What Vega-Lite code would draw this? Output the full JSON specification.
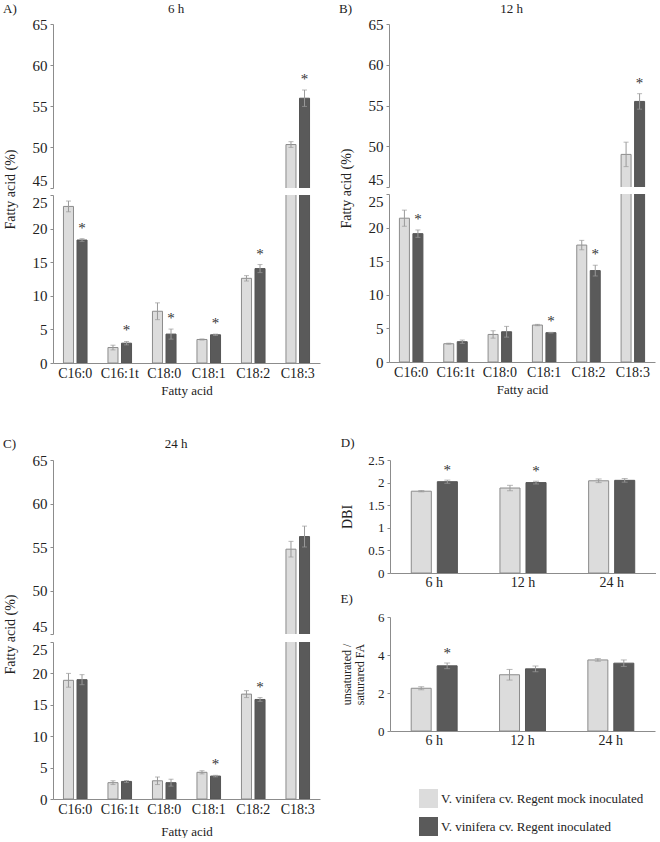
{
  "$schema": "https://vega.github.io/schema/vega-lite/v6.json",
  "padding": {"left": 3, "top": 3, "right": 0, "bottom": 0},
  "background": "white",
  "datasets": {
    "fa": [
      {"time": "6 h", "acid": "C16:0", "grp": "mock", "value": 23.3, "lo": 22.5, "hi": 24.1, "sig": 0},
      {"time": "6 h", "acid": "C16:0", "grp": "inoc", "value": 18.3, "lo": 18.1, "hi": 18.5, "sig": 1},
      {"time": "6 h", "acid": "C16:1t", "grp": "mock", "value": 2.3, "lo": 1.95, "hi": 2.65, "sig": 0},
      {"time": "6 h", "acid": "C16:1t", "grp": "inoc", "value": 2.95, "lo": 2.7, "hi": 3.2, "sig": 1},
      {"time": "6 h", "acid": "C18:0", "grp": "mock", "value": 7.7, "lo": 6.45, "hi": 8.95, "sig": 0},
      {"time": "6 h", "acid": "C18:0", "grp": "inoc", "value": 4.3, "lo": 3.55, "hi": 5.05, "sig": 1},
      {"time": "6 h", "acid": "C18:1", "grp": "mock", "value": 3.5, "lo": 3.42, "hi": 3.58, "sig": 0},
      {"time": "6 h", "acid": "C18:1", "grp": "inoc", "value": 4.2, "lo": 4.1, "hi": 4.3, "sig": 1},
      {"time": "6 h", "acid": "C18:2", "grp": "mock", "value": 12.6, "lo": 12.2, "hi": 13.0, "sig": 0},
      {"time": "6 h", "acid": "C18:2", "grp": "inoc", "value": 14.05, "lo": 13.45, "hi": 14.65, "sig": 1},
      {"time": "6 h", "acid": "C18:3", "grp": "mock", "value": 50.3, "lo": 49.95, "hi": 50.65, "sig": 0},
      {"time": "6 h", "acid": "C18:3", "grp": "inoc", "value": 55.95, "lo": 54.95, "hi": 56.95, "sig": 1},
      {"time": "12 h", "acid": "C16:0", "grp": "mock", "value": 21.4, "lo": 20.2, "hi": 22.6, "sig": 0},
      {"time": "12 h", "acid": "C16:0", "grp": "inoc", "value": 19.1, "lo": 18.55, "hi": 19.65, "sig": 1},
      {"time": "12 h", "acid": "C16:1t", "grp": "mock", "value": 2.72, "lo": 2.64, "hi": 2.8, "sig": 0},
      {"time": "12 h", "acid": "C16:1t", "grp": "inoc", "value": 3.02, "lo": 2.77, "hi": 3.27, "sig": 0},
      {"time": "12 h", "acid": "C18:0", "grp": "mock", "value": 4.1, "lo": 3.55, "hi": 4.65, "sig": 0},
      {"time": "12 h", "acid": "C18:0", "grp": "inoc", "value": 4.5, "lo": 3.7, "hi": 5.3, "sig": 0},
      {"time": "12 h", "acid": "C18:1", "grp": "mock", "value": 5.5, "lo": 5.4, "hi": 5.6, "sig": 0},
      {"time": "12 h", "acid": "C18:1", "grp": "inoc", "value": 4.36, "lo": 4.31, "hi": 4.41, "sig": 1},
      {"time": "12 h", "acid": "C18:2", "grp": "mock", "value": 17.4, "lo": 16.7, "hi": 18.1, "sig": 0},
      {"time": "12 h", "acid": "C18:2", "grp": "inoc", "value": 13.6, "lo": 12.8, "hi": 14.4, "sig": 1},
      {"time": "12 h", "acid": "C18:3", "grp": "mock", "value": 49.0, "lo": 47.5, "hi": 50.5, "sig": 0},
      {"time": "12 h", "acid": "C18:3", "grp": "inoc", "value": 55.5, "lo": 54.55, "hi": 56.45, "sig": 1},
      {"time": "24 h", "acid": "C16:0", "grp": "mock", "value": 18.9, "lo": 17.8, "hi": 20.0, "sig": 0},
      {"time": "24 h", "acid": "C16:0", "grp": "inoc", "value": 19.0, "lo": 18.2, "hi": 19.8, "sig": 0},
      {"time": "24 h", "acid": "C16:1t", "grp": "mock", "value": 2.6, "lo": 2.3, "hi": 2.9, "sig": 0},
      {"time": "24 h", "acid": "C16:1t", "grp": "inoc", "value": 2.8, "lo": 2.65, "hi": 2.95, "sig": 0},
      {"time": "24 h", "acid": "C18:0", "grp": "mock", "value": 2.9, "lo": 2.3, "hi": 3.5, "sig": 0},
      {"time": "24 h", "acid": "C18:0", "grp": "inoc", "value": 2.6, "lo": 2.05, "hi": 3.15, "sig": 0},
      {"time": "24 h", "acid": "C18:1", "grp": "mock", "value": 4.25, "lo": 4.0, "hi": 4.5, "sig": 0},
      {"time": "24 h", "acid": "C18:1", "grp": "inoc", "value": 3.65, "lo": 3.53, "hi": 3.77, "sig": 1},
      {"time": "24 h", "acid": "C18:2", "grp": "mock", "value": 16.7, "lo": 16.15, "hi": 17.25, "sig": 0},
      {"time": "24 h", "acid": "C18:2", "grp": "inoc", "value": 15.85, "lo": 15.55, "hi": 16.15, "sig": 1},
      {"time": "24 h", "acid": "C18:3", "grp": "mock", "value": 54.75, "lo": 53.85, "hi": 55.65, "sig": 0},
      {"time": "24 h", "acid": "C18:3", "grp": "inoc", "value": 56.2, "lo": 55.0, "hi": 57.4, "sig": 0}
    ],
    "idx": [
      {"metric": "DBI", "time": "6 h", "grp": "mock", "value": 1.81, "lo": 1.795, "hi": 1.825, "sig": 0},
      {"metric": "DBI", "time": "6 h", "grp": "inoc", "value": 2.02, "lo": 1.985, "hi": 2.055, "sig": 1},
      {"metric": "DBI", "time": "12 h", "grp": "mock", "value": 1.88, "lo": 1.82, "hi": 1.94, "sig": 0},
      {"metric": "DBI", "time": "12 h", "grp": "inoc", "value": 2.0, "lo": 1.97, "hi": 2.03, "sig": 1},
      {"metric": "DBI", "time": "24 h", "grp": "mock", "value": 2.04, "lo": 2.0, "hi": 2.08, "sig": 0},
      {"metric": "DBI", "time": "24 h", "grp": "inoc", "value": 2.05, "lo": 2.01, "hi": 2.09, "sig": 0},
      {"metric": "UFA", "time": "6 h", "grp": "mock", "value": 2.25, "lo": 2.17, "hi": 2.33, "sig": 0},
      {"metric": "UFA", "time": "6 h", "grp": "inoc", "value": 3.43, "lo": 3.28, "hi": 3.58, "sig": 1},
      {"metric": "UFA", "time": "12 h", "grp": "mock", "value": 2.96, "lo": 2.68, "hi": 3.24, "sig": 0},
      {"metric": "UFA", "time": "12 h", "grp": "inoc", "value": 3.27, "lo": 3.12, "hi": 3.42, "sig": 0},
      {"metric": "UFA", "time": "24 h", "grp": "mock", "value": 3.74, "lo": 3.67, "hi": 3.81, "sig": 0},
      {"metric": "UFA", "time": "24 h", "grp": "inoc", "value": 3.57, "lo": 3.4, "hi": 3.74, "sig": 0}
    ]
  },
  "data": {"name": "fa"},
  "spacing": 40,
  "resolve": {"scale": {"xOffset": "independent"}},
  "vconcat": [
    {
      "hconcat": [
        {
          "title": {"text": "A)", "anchor": "start", "frame": "bounds", "offset": -13},
          "bounds": "flush",
          "spacing": 7,
          "resolve": {"scale": {"xOffset": "independent"}},
          "vconcat": [
            {
              "width": 267, "height": 164,
              "title": {"text": "6 h", "anchor": "middle", "frame": "bounds", "offset": 1},
              "transform": [{"filter": "datum.time == '6 h'"}],
              "encoding": {
                "x": {"field": "acid", "type": "nominal", "sort": ["C16:0", "C16:1t", "C18:0", "C18:1", "C18:2", "C18:3"], "scale": {"paddingInner": 0.47, "paddingOuter": 0.235}, "axis": null},
                "xOffset": {"field": "grp", "type": "nominal", "sort": ["mock", "inoc"], "scale": {"paddingInner": 0.26, "paddingOuter": 0}}
              },
              "layer": [
                {"mark": {"type": "bar", "clip": true, "strokeWidth": 1},
                 "encoding": {
                   "y": {"field": "value", "type": "quantitative", "scale": {"domain": [45, 65], "nice": false, "zero": false}, "axis": {"values": [45, 50, 55, 60, 65], "title": null, "labelFontSize": 15, "labelPadding": 3, "labelBaseline": {"condition": {"test": "datum.value == 45", "value": "bottom"}, "value": "middle"}}},
                   "fill": {"field": "grp", "type": "nominal", "scale": {"domain": ["mock", "inoc"], "range": ["#dcdcdc", "#5a5a5a"]}},
                   "stroke": {"field": "grp", "type": "nominal", "scale": {"domain": ["mock", "inoc"], "range": ["#8c8c8c", "#555555"]}, "legend": null}}},
                {"mark": {"type": "rule", "clip": true, "color": "#9a9a9a", "strokeWidth": 1},
                 "encoding": {"y": {"field": "lo", "type": "quantitative", "scale": {"domain": [45, 65], "nice": false, "zero": false}, "axis": {"values": [45, 50, 55, 60, 65], "title": null, "labelFontSize": 15, "labelPadding": 3, "labelBaseline": {"condition": {"test": "datum.value == 45", "value": "bottom"}, "value": "middle"}}}, "y2": {"field": "hi"}}},
                {"mark": {"type": "tick", "clip": true, "color": "#9a9a9a", "size": 5, "thickness": 1, "orient": "horizontal"},
                 "encoding": {"y": {"field": "lo", "type": "quantitative", "scale": {"domain": [45, 65], "nice": false, "zero": false}, "axis": {"values": [45, 50, 55, 60, 65], "title": null, "labelFontSize": 15, "labelPadding": 3, "labelBaseline": {"condition": {"test": "datum.value == 45", "value": "bottom"}, "value": "middle"}}}}},
                {"mark": {"type": "tick", "clip": true, "color": "#9a9a9a", "size": 5, "thickness": 1, "orient": "horizontal"},
                 "encoding": {"y": {"field": "hi", "type": "quantitative", "scale": {"domain": [45, 65], "nice": false, "zero": false}, "axis": {"values": [45, 50, 55, 60, 65], "title": null, "labelFontSize": 15, "labelPadding": 3, "labelBaseline": {"condition": {"test": "datum.value == 45", "value": "bottom"}, "value": "middle"}}}}},
                {"transform": [{"filter": "datum.sig == 1 && datum.hi > 45"}],
                 "mark": {"type": "text", "text": "*", "font": "Liberation Serif", "fontSize": 15, "baseline": "alphabetic", "dy": -6, "color": "#333", "clip": true},
                 "encoding": {"y": {"field": "hi", "type": "quantitative", "scale": {"domain": [45, 65], "nice": false, "zero": false}, "axis": {"values": [45, 50, 55, 60, 65], "title": null, "labelFontSize": 15, "labelPadding": 3, "labelBaseline": {"condition": {"test": "datum.value == 45", "value": "bottom"}, "value": "middle"}}}}}
              ]
            },
            {
              "width": 267, "height": 168,
              "transform": [{"filter": "datum.time == '6 h'"}],
              "encoding": {
                "x": {"field": "acid", "type": "nominal", "sort": ["C16:0", "C16:1t", "C18:0", "C18:1", "C18:2", "C18:3"], "scale": {"paddingInner": 0.47, "paddingOuter": 0.235}, "axis": {"title": "Fatty acid", "labelFontSize": 14, "labelPadding": 3, "titlePadding": 4, "titleFontSize": 13}},
                "xOffset": {"field": "grp", "type": "nominal", "sort": ["mock", "inoc"], "scale": {"paddingInner": 0.26, "paddingOuter": 0}}
              },
              "layer": [
                {"mark": {"type": "bar", "clip": true, "strokeWidth": 1},
                 "encoding": {
                   "y": {"field": "value", "type": "quantitative", "scale": {"domain": [0, 25], "nice": false}, "axis": {"values": [0, 5, 10, 15, 20, 25], "title": "Fatty acid (%)", "titleY": -6, "labelFontSize": 15, "labelPadding": 3, "titlePadding": 15, "labelBaseline": {"condition": {"test": "datum.value == 25", "value": "top"}, "value": "middle"}}},
                   "fill": {"field": "grp", "type": "nominal", "scale": {"domain": ["mock", "inoc"], "range": ["#dcdcdc", "#5a5a5a"]},
                     "legend": {"orient": "none", "legendX": 366, "legendY": 765, "title": null, "symbolType": "square", "symbolSize": 361, "symbolStrokeWidth": 0, "labelFont": "Liberation Serif", "labelFontSize": 13, "labelColor": "#222", "rowPadding": 9, "labelOffset": 3, "labelLimit": 300, "padding": 0,
                       "labelExpr": "datum.label == 'mock' ? 'V. vinifera cv. Regent mock inoculated' : 'V. vinifera cv. Regent inoculated'"}},
                   "stroke": {"field": "grp", "type": "nominal", "scale": {"domain": ["mock", "inoc"], "range": ["#8c8c8c", "#555555"]}, "legend": null}}},
                {"mark": {"type": "rule", "clip": true, "color": "#9a9a9a", "strokeWidth": 1},
                 "encoding": {"y": {"field": "lo", "type": "quantitative", "scale": {"domain": [0, 25], "nice": false}, "axis": {"values": [0, 5, 10, 15, 20, 25], "title": "Fatty acid (%)", "titleY": -6, "labelFontSize": 15, "labelPadding": 3, "titlePadding": 15, "labelBaseline": {"condition": {"test": "datum.value == 25", "value": "top"}, "value": "middle"}}}, "y2": {"field": "hi"}}},
                {"mark": {"type": "tick", "clip": true, "color": "#9a9a9a", "size": 5, "thickness": 1, "orient": "horizontal"},
                 "encoding": {"y": {"field": "lo", "type": "quantitative", "scale": {"domain": [0, 25], "nice": false}, "axis": {"values": [0, 5, 10, 15, 20, 25], "title": "Fatty acid (%)", "titleY": -6, "labelFontSize": 15, "labelPadding": 3, "titlePadding": 15, "labelBaseline": {"condition": {"test": "datum.value == 25", "value": "top"}, "value": "middle"}}}}},
                {"mark": {"type": "tick", "clip": true, "color": "#9a9a9a", "size": 5, "thickness": 1, "orient": "horizontal"},
                 "encoding": {"y": {"field": "hi", "type": "quantitative", "scale": {"domain": [0, 25], "nice": false}, "axis": {"values": [0, 5, 10, 15, 20, 25], "title": "Fatty acid (%)", "titleY": -6, "labelFontSize": 15, "labelPadding": 3, "titlePadding": 15, "labelBaseline": {"condition": {"test": "datum.value == 25", "value": "top"}, "value": "middle"}}}}},
                {"transform": [{"filter": "datum.sig == 1 && datum.hi < 25"}],
                 "mark": {"type": "text", "text": "*", "font": "Liberation Serif", "fontSize": 15, "baseline": "alphabetic", "dy": -6, "color": "#333", "clip": true},
                 "encoding": {"y": {"field": "hi", "type": "quantitative", "scale": {"domain": [0, 25], "nice": false}, "axis": {"values": [0, 5, 10, 15, 20, 25], "title": "Fatty acid (%)", "titleY": -6, "labelFontSize": 15, "labelPadding": 3, "titlePadding": 15, "labelBaseline": {"condition": {"test": "datum.value == 25", "value": "top"}, "value": "middle"}}}}}
              ]
            }
          ]
        },
        {
          "title": {"text": "B)", "anchor": "start", "frame": "bounds", "offset": -13},
          "bounds": "flush",
          "spacing": 7,
          "resolve": {"scale": {"xOffset": "independent"}},
          "vconcat": [
            {
              "width": 266, "height": 163,
              "title": {"text": "12 h", "anchor": "middle", "frame": "bounds", "offset": 1},
              "transform": [{"filter": "datum.time == '12 h'"}],
              "encoding": {
                "x": {"field": "acid", "type": "nominal", "sort": ["C16:0", "C16:1t", "C18:0", "C18:1", "C18:2", "C18:3"], "scale": {"paddingInner": 0.47, "paddingOuter": 0.235}, "axis": null},
                "xOffset": {"field": "grp", "type": "nominal", "sort": ["mock", "inoc"], "scale": {"paddingInner": 0.26, "paddingOuter": 0}}
              },
              "layer": [
                {"mark": {"type": "bar", "clip": true, "strokeWidth": 1},
                 "encoding": {
                   "y": {"field": "value", "type": "quantitative", "scale": {"domain": [45, 65], "nice": false, "zero": false}, "axis": {"values": [45, 50, 55, 60, 65], "title": null, "labelFontSize": 15, "labelPadding": 3, "labelBaseline": {"condition": {"test": "datum.value == 45", "value": "bottom"}, "value": "middle"}}},
                   "fill": {"field": "grp", "type": "nominal", "scale": {"domain": ["mock", "inoc"], "range": ["#dcdcdc", "#5a5a5a"]}},
                   "stroke": {"field": "grp", "type": "nominal", "scale": {"domain": ["mock", "inoc"], "range": ["#8c8c8c", "#555555"]}, "legend": null}}},
                {"mark": {"type": "rule", "clip": true, "color": "#9a9a9a", "strokeWidth": 1},
                 "encoding": {"y": {"field": "lo", "type": "quantitative", "scale": {"domain": [45, 65], "nice": false, "zero": false}, "axis": {"values": [45, 50, 55, 60, 65], "title": null, "labelFontSize": 15, "labelPadding": 3, "labelBaseline": {"condition": {"test": "datum.value == 45", "value": "bottom"}, "value": "middle"}}}, "y2": {"field": "hi"}}},
                {"mark": {"type": "tick", "clip": true, "color": "#9a9a9a", "size": 5, "thickness": 1, "orient": "horizontal"},
                 "encoding": {"y": {"field": "lo", "type": "quantitative", "scale": {"domain": [45, 65], "nice": false, "zero": false}, "axis": {"values": [45, 50, 55, 60, 65], "title": null, "labelFontSize": 15, "labelPadding": 3, "labelBaseline": {"condition": {"test": "datum.value == 45", "value": "bottom"}, "value": "middle"}}}}},
                {"mark": {"type": "tick", "clip": true, "color": "#9a9a9a", "size": 5, "thickness": 1, "orient": "horizontal"},
                 "encoding": {"y": {"field": "hi", "type": "quantitative", "scale": {"domain": [45, 65], "nice": false, "zero": false}, "axis": {"values": [45, 50, 55, 60, 65], "title": null, "labelFontSize": 15, "labelPadding": 3, "labelBaseline": {"condition": {"test": "datum.value == 45", "value": "bottom"}, "value": "middle"}}}}},
                {"transform": [{"filter": "datum.sig == 1 && datum.hi > 45"}],
                 "mark": {"type": "text", "text": "*", "font": "Liberation Serif", "fontSize": 15, "baseline": "alphabetic", "dy": -6, "color": "#333", "clip": true},
                 "encoding": {"y": {"field": "hi", "type": "quantitative", "scale": {"domain": [45, 65], "nice": false, "zero": false}, "axis": {"values": [45, 50, 55, 60, 65], "title": null, "labelFontSize": 15, "labelPadding": 3, "labelBaseline": {"condition": {"test": "datum.value == 45", "value": "bottom"}, "value": "middle"}}}}}
              ]
            },
            {
              "width": 266, "height": 168,
              "transform": [{"filter": "datum.time == '12 h'"}],
              "encoding": {
                "x": {"field": "acid", "type": "nominal", "sort": ["C16:0", "C16:1t", "C18:0", "C18:1", "C18:2", "C18:3"], "scale": {"paddingInner": 0.47, "paddingOuter": 0.235}, "axis": {"title": "Fatty acid", "labelFontSize": 14, "labelPadding": 3, "titlePadding": 4, "titleFontSize": 13}},
                "xOffset": {"field": "grp", "type": "nominal", "sort": ["mock", "inoc"], "scale": {"paddingInner": 0.26, "paddingOuter": 0}}
              },
              "layer": [
                {"mark": {"type": "bar", "clip": true, "strokeWidth": 1},
                 "encoding": {
                   "y": {"field": "value", "type": "quantitative", "scale": {"domain": [0, 25], "nice": false}, "axis": {"values": [0, 5, 10, 15, 20, 25], "title": "Fatty acid (%)", "titleY": -6, "labelFontSize": 15, "labelPadding": 3, "titlePadding": 15, "labelBaseline": {"condition": {"test": "datum.value == 25", "value": "top"}, "value": "middle"}}},
                   "fill": {"field": "grp", "type": "nominal", "scale": {"domain": ["mock", "inoc"], "range": ["#dcdcdc", "#5a5a5a"]}},
                   "stroke": {"field": "grp", "type": "nominal", "scale": {"domain": ["mock", "inoc"], "range": ["#8c8c8c", "#555555"]}, "legend": null}}},
                {"mark": {"type": "rule", "clip": true, "color": "#9a9a9a", "strokeWidth": 1},
                 "encoding": {"y": {"field": "lo", "type": "quantitative", "scale": {"domain": [0, 25], "nice": false}, "axis": {"values": [0, 5, 10, 15, 20, 25], "title": "Fatty acid (%)", "titleY": -6, "labelFontSize": 15, "labelPadding": 3, "titlePadding": 15, "labelBaseline": {"condition": {"test": "datum.value == 25", "value": "top"}, "value": "middle"}}}, "y2": {"field": "hi"}}},
                {"mark": {"type": "tick", "clip": true, "color": "#9a9a9a", "size": 5, "thickness": 1, "orient": "horizontal"},
                 "encoding": {"y": {"field": "lo", "type": "quantitative", "scale": {"domain": [0, 25], "nice": false}, "axis": {"values": [0, 5, 10, 15, 20, 25], "title": "Fatty acid (%)", "titleY": -6, "labelFontSize": 15, "labelPadding": 3, "titlePadding": 15, "labelBaseline": {"condition": {"test": "datum.value == 25", "value": "top"}, "value": "middle"}}}}},
                {"mark": {"type": "tick", "clip": true, "color": "#9a9a9a", "size": 5, "thickness": 1, "orient": "horizontal"},
                 "encoding": {"y": {"field": "hi", "type": "quantitative", "scale": {"domain": [0, 25], "nice": false}, "axis": {"values": [0, 5, 10, 15, 20, 25], "title": "Fatty acid (%)", "titleY": -6, "labelFontSize": 15, "labelPadding": 3, "titlePadding": 15, "labelBaseline": {"condition": {"test": "datum.value == 25", "value": "top"}, "value": "middle"}}}}},
                {"transform": [{"filter": "datum.sig == 1 && datum.hi < 25"}],
                 "mark": {"type": "text", "text": "*", "font": "Liberation Serif", "fontSize": 15, "baseline": "alphabetic", "dy": -6, "color": "#333", "clip": true},
                 "encoding": {"y": {"field": "hi", "type": "quantitative", "scale": {"domain": [0, 25], "nice": false}, "axis": {"values": [0, 5, 10, 15, 20, 25], "title": "Fatty acid (%)", "titleY": -6, "labelFontSize": 15, "labelPadding": 3, "titlePadding": 15, "labelBaseline": {"condition": {"test": "datum.value == 25", "value": "top"}, "value": "middle"}}}}}
              ]
            }
          ]
        }
      ],
      "spacing": 19,
      "resolve": {"scale": {"xOffset": "independent"}}
    },
    {
      "hconcat": [
        {
          "title": {"text": "C)", "anchor": "start", "frame": "bounds", "offset": -13},
          "bounds": "flush",
          "spacing": 8,
          "resolve": {"scale": {"xOffset": "independent"}},
          "vconcat": [
            {
              "width": 267, "height": 174,
              "title": {"text": "24 h", "anchor": "middle", "frame": "bounds", "offset": 2},
              "transform": [{"filter": "datum.time == '24 h'"}],
              "encoding": {
                "x": {"field": "acid", "type": "nominal", "sort": ["C16:0", "C16:1t", "C18:0", "C18:1", "C18:2", "C18:3"], "scale": {"paddingInner": 0.47, "paddingOuter": 0.235}, "axis": null},
                "xOffset": {"field": "grp", "type": "nominal", "sort": ["mock", "inoc"], "scale": {"paddingInner": 0.26, "paddingOuter": 0}}
              },
              "layer": [
                {"mark": {"type": "bar", "clip": true, "strokeWidth": 1},
                 "encoding": {
                   "y": {"field": "value", "type": "quantitative", "scale": {"domain": [45, 65], "nice": false, "zero": false}, "axis": {"values": [45, 50, 55, 60, 65], "title": null, "labelFontSize": 15, "labelPadding": 3, "labelBaseline": {"condition": {"test": "datum.value == 45", "value": "bottom"}, "value": "middle"}}},
                   "fill": {"field": "grp", "type": "nominal", "scale": {"domain": ["mock", "inoc"], "range": ["#dcdcdc", "#5a5a5a"]}},
                   "stroke": {"field": "grp", "type": "nominal", "scale": {"domain": ["mock", "inoc"], "range": ["#8c8c8c", "#555555"]}, "legend": null}}},
                {"mark": {"type": "rule", "clip": true, "color": "#9a9a9a", "strokeWidth": 1},
                 "encoding": {"y": {"field": "lo", "type": "quantitative", "scale": {"domain": [45, 65], "nice": false, "zero": false}, "axis": {"values": [45, 50, 55, 60, 65], "title": null, "labelFontSize": 15, "labelPadding": 3, "labelBaseline": {"condition": {"test": "datum.value == 45", "value": "bottom"}, "value": "middle"}}}, "y2": {"field": "hi"}}},
                {"mark": {"type": "tick", "clip": true, "color": "#9a9a9a", "size": 5, "thickness": 1, "orient": "horizontal"},
                 "encoding": {"y": {"field": "lo", "type": "quantitative", "scale": {"domain": [45, 65], "nice": false, "zero": false}, "axis": {"values": [45, 50, 55, 60, 65], "title": null, "labelFontSize": 15, "labelPadding": 3, "labelBaseline": {"condition": {"test": "datum.value == 45", "value": "bottom"}, "value": "middle"}}}}},
                {"mark": {"type": "tick", "clip": true, "color": "#9a9a9a", "size": 5, "thickness": 1, "orient": "horizontal"},
                 "encoding": {"y": {"field": "hi", "type": "quantitative", "scale": {"domain": [45, 65], "nice": false, "zero": false}, "axis": {"values": [45, 50, 55, 60, 65], "title": null, "labelFontSize": 15, "labelPadding": 3, "labelBaseline": {"condition": {"test": "datum.value == 45", "value": "bottom"}, "value": "middle"}}}}},
                {"transform": [{"filter": "datum.sig == 1 && datum.hi > 45"}],
                 "mark": {"type": "text", "text": "*", "font": "Liberation Serif", "fontSize": 15, "baseline": "alphabetic", "dy": -6, "color": "#333", "clip": true},
                 "encoding": {"y": {"field": "hi", "type": "quantitative", "scale": {"domain": [45, 65], "nice": false, "zero": false}, "axis": {"values": [45, 50, 55, 60, 65], "title": null, "labelFontSize": 15, "labelPadding": 3, "labelBaseline": {"condition": {"test": "datum.value == 45", "value": "bottom"}, "value": "middle"}}}}}
              ]
            },
            {
              "width": 267, "height": 157,
              "transform": [{"filter": "datum.time == '24 h'"}],
              "encoding": {
                "x": {"field": "acid", "type": "nominal", "sort": ["C16:0", "C16:1t", "C18:0", "C18:1", "C18:2", "C18:3"], "scale": {"paddingInner": 0.47, "paddingOuter": 0.235}, "axis": {"title": "Fatty acid", "labelFontSize": 14, "labelPadding": 3, "titlePadding": 9, "titleFontSize": 13}},
                "xOffset": {"field": "grp", "type": "nominal", "sort": ["mock", "inoc"], "scale": {"paddingInner": 0.26, "paddingOuter": 0}}
              },
              "layer": [
                {"mark": {"type": "bar", "clip": true, "strokeWidth": 1},
                 "encoding": {
                   "y": {"field": "value", "type": "quantitative", "scale": {"domain": [0, 25], "nice": false}, "axis": {"values": [0, 5, 10, 15, 20, 25], "title": "Fatty acid (%)", "titleY": -8, "labelFontSize": 15, "labelPadding": 3, "titlePadding": 15, "labelBaseline": {"condition": {"test": "datum.value == 25", "value": "top"}, "value": "middle"}}},
                   "fill": {"field": "grp", "type": "nominal", "scale": {"domain": ["mock", "inoc"], "range": ["#dcdcdc", "#5a5a5a"]}},
                   "stroke": {"field": "grp", "type": "nominal", "scale": {"domain": ["mock", "inoc"], "range": ["#8c8c8c", "#555555"]}, "legend": null}}},
                {"mark": {"type": "rule", "clip": true, "color": "#9a9a9a", "strokeWidth": 1},
                 "encoding": {"y": {"field": "lo", "type": "quantitative", "scale": {"domain": [0, 25], "nice": false}, "axis": {"values": [0, 5, 10, 15, 20, 25], "title": "Fatty acid (%)", "titleY": -8, "labelFontSize": 15, "labelPadding": 3, "titlePadding": 15, "labelBaseline": {"condition": {"test": "datum.value == 25", "value": "top"}, "value": "middle"}}}, "y2": {"field": "hi"}}},
                {"mark": {"type": "tick", "clip": true, "color": "#9a9a9a", "size": 5, "thickness": 1, "orient": "horizontal"},
                 "encoding": {"y": {"field": "lo", "type": "quantitative", "scale": {"domain": [0, 25], "nice": false}, "axis": {"values": [0, 5, 10, 15, 20, 25], "title": "Fatty acid (%)", "titleY": -8, "labelFontSize": 15, "labelPadding": 3, "titlePadding": 15, "labelBaseline": {"condition": {"test": "datum.value == 25", "value": "top"}, "value": "middle"}}}}},
                {"mark": {"type": "tick", "clip": true, "color": "#9a9a9a", "size": 5, "thickness": 1, "orient": "horizontal"},
                 "encoding": {"y": {"field": "hi", "type": "quantitative", "scale": {"domain": [0, 25], "nice": false}, "axis": {"values": [0, 5, 10, 15, 20, 25], "title": "Fatty acid (%)", "titleY": -8, "labelFontSize": 15, "labelPadding": 3, "titlePadding": 15, "labelBaseline": {"condition": {"test": "datum.value == 25", "value": "top"}, "value": "middle"}}}}},
                {"transform": [{"filter": "datum.sig == 1 && datum.hi < 25"}],
                 "mark": {"type": "text", "text": "*", "font": "Liberation Serif", "fontSize": 15, "baseline": "alphabetic", "dy": -6, "color": "#333", "clip": true},
                 "encoding": {"y": {"field": "hi", "type": "quantitative", "scale": {"domain": [0, 25], "nice": false}, "axis": {"values": [0, 5, 10, 15, 20, 25], "title": "Fatty acid (%)", "titleY": -8, "labelFontSize": 15, "labelPadding": 3, "titlePadding": 15, "labelBaseline": {"condition": {"test": "datum.value == 25", "value": "top"}, "value": "middle"}}}}}
              ]
            }
          ]
        },
        {
          "data": {"name": "idx"},
          "bounds": "flush",
          "spacing": 44,
          "resolve": {"scale": {"xOffset": "independent"}},
          "vconcat": [
            {
              "width": 266, "height": 113,
              "title": {"text": "D)", "anchor": "start", "frame": "bounds", "offset": 4},
              "transform": [{"filter": "datum.metric == 'DBI'"}],
              "encoding": {
                "x": {"field": "time", "type": "nominal", "sort": ["6 h", "12 h", "24 h"], "scale": {"paddingInner": 0.48, "paddingOuter": 0.24}, "axis": {"title": null, "labelFontSize": 14, "labelPadding": 2}},
                "xOffset": {"field": "grp", "type": "nominal", "sort": ["mock", "inoc"], "scale": {"paddingInner": 0.23, "paddingOuter": 0}}
              },
              "layer": [
                {"mark": {"type": "bar", "clip": true, "strokeWidth": 1},
                 "encoding": {
                   "y": {"field": "value", "type": "quantitative", "scale": {"domain": [0, 2.5], "nice": false}, "axis": {"values": [0, 0.5, 1, 1.5, 2, 2.5], "format": "~g", "title": "DBI", "labelFontSize": 13, "labelPadding": 3, "titlePadding": 13}},
                   "fill": {"field": "grp", "type": "nominal", "scale": {"domain": ["mock", "inoc"], "range": ["#dcdcdc", "#5a5a5a"]}},
                   "stroke": {"field": "grp", "type": "nominal", "scale": {"domain": ["mock", "inoc"], "range": ["#8c8c8c", "#555555"]}, "legend": null}}},
                {"mark": {"type": "rule", "clip": true, "color": "#9a9a9a", "strokeWidth": 1},
                 "encoding": {"y": {"field": "lo", "type": "quantitative", "scale": {"domain": [0, 2.5], "nice": false}, "axis": {"values": [0, 0.5, 1, 1.5, 2, 2.5], "format": "~g", "title": "DBI", "labelFontSize": 13, "labelPadding": 3, "titlePadding": 13}}, "y2": {"field": "hi"}}},
                {"mark": {"type": "tick", "clip": true, "color": "#9a9a9a", "size": 6, "thickness": 1, "orient": "horizontal"},
                 "encoding": {"y": {"field": "lo", "type": "quantitative", "scale": {"domain": [0, 2.5], "nice": false}, "axis": {"values": [0, 0.5, 1, 1.5, 2, 2.5], "format": "~g", "title": "DBI", "labelFontSize": 13, "labelPadding": 3, "titlePadding": 13}}}},
                {"mark": {"type": "tick", "clip": true, "color": "#9a9a9a", "size": 6, "thickness": 1, "orient": "horizontal"},
                 "encoding": {"y": {"field": "hi", "type": "quantitative", "scale": {"domain": [0, 2.5], "nice": false}, "axis": {"values": [0, 0.5, 1, 1.5, 2, 2.5], "format": "~g", "title": "DBI", "labelFontSize": 13, "labelPadding": 3, "titlePadding": 13}}}},
                {"transform": [{"filter": "datum.sig == 1"}],
                 "mark": {"type": "text", "text": "*", "font": "Liberation Serif", "fontSize": 15, "baseline": "alphabetic", "dy": -5, "color": "#333"},
                 "encoding": {"y": {"field": "hi", "type": "quantitative", "scale": {"domain": [0, 2.5], "nice": false}, "axis": {"values": [0, 0.5, 1, 1.5, 2, 2.5], "format": "~g", "title": "DBI", "labelFontSize": 13, "labelPadding": 3, "titlePadding": 13}}}}
              ]
            },
            {
              "width": 265, "height": 114,
              "title": {"text": "E)", "anchor": "start", "frame": "bounds", "offset": 5},
              "transform": [{"filter": "datum.metric == 'UFA'"}],
              "encoding": {
                "x": {"field": "time", "type": "nominal", "sort": ["6 h", "12 h", "24 h"], "scale": {"paddingInner": 0.48, "paddingOuter": 0.24}, "axis": {"title": null, "labelFontSize": 14, "labelPadding": 2}},
                "xOffset": {"field": "grp", "type": "nominal", "sort": ["mock", "inoc"], "scale": {"paddingInner": 0.23, "paddingOuter": 0}}
              },
              "layer": [
                {"mark": {"type": "bar", "clip": true, "strokeWidth": 1},
                 "encoding": {
                   "y": {"field": "value", "type": "quantitative", "scale": {"domain": [0, 6], "nice": false}, "axis": {"values": [0, 2, 4, 6], "title": ["unsaturated /", "saturared FA"], "titleFontSize": 12, "titleLineHeight": 13, "labelFontSize": 13, "labelPadding": 3, "titlePadding": 11}},
                   "fill": {"field": "grp", "type": "nominal", "scale": {"domain": ["mock", "inoc"], "range": ["#dcdcdc", "#5a5a5a"]}},
                   "stroke": {"field": "grp", "type": "nominal", "scale": {"domain": ["mock", "inoc"], "range": ["#8c8c8c", "#555555"]}, "legend": null}}},
                {"mark": {"type": "rule", "clip": true, "color": "#9a9a9a", "strokeWidth": 1},
                 "encoding": {"y": {"field": "lo", "type": "quantitative", "scale": {"domain": [0, 6], "nice": false}, "axis": {"values": [0, 2, 4, 6], "title": ["unsaturated /", "saturared FA"], "titleFontSize": 12, "titleLineHeight": 13, "labelFontSize": 13, "labelPadding": 3, "titlePadding": 11}}, "y2": {"field": "hi"}}},
                {"mark": {"type": "tick", "clip": true, "color": "#9a9a9a", "size": 6, "thickness": 1, "orient": "horizontal"},
                 "encoding": {"y": {"field": "lo", "type": "quantitative", "scale": {"domain": [0, 6], "nice": false}, "axis": {"values": [0, 2, 4, 6], "title": ["unsaturated /", "saturared FA"], "titleFontSize": 12, "titleLineHeight": 13, "labelFontSize": 13, "labelPadding": 3, "titlePadding": 11}}}},
                {"mark": {"type": "tick", "clip": true, "color": "#9a9a9a", "size": 6, "thickness": 1, "orient": "horizontal"},
                 "encoding": {"y": {"field": "hi", "type": "quantitative", "scale": {"domain": [0, 6], "nice": false}, "axis": {"values": [0, 2, 4, 6], "title": ["unsaturated /", "saturared FA"], "titleFontSize": 12, "titleLineHeight": 13, "labelFontSize": 13, "labelPadding": 3, "titlePadding": 11}}}},
                {"transform": [{"filter": "datum.sig == 1"}],
                 "mark": {"type": "text", "text": "*", "font": "Liberation Serif", "fontSize": 15, "baseline": "alphabetic", "dy": -5, "color": "#333"},
                 "encoding": {"y": {"field": "hi", "type": "quantitative", "scale": {"domain": [0, 6], "nice": false}, "axis": {"values": [0, 2, 4, 6], "title": ["unsaturated /", "saturared FA"], "titleFontSize": 12, "titleLineHeight": 13, "labelFontSize": 13, "labelPadding": 3, "titlePadding": 11}}}}
              ]
            }
          ]
        }
      ],
      "spacing": 20,
      "resolve": {"scale": {"xOffset": "independent"}}
    }
  ],
  "config": {
    "font": "Liberation Serif",
    "view": {"stroke": null},
    "axis": {"labelFont": "Liberation Serif", "titleFont": "Liberation Serif", "labelColor": "#222", "titleColor": "#222", "titleFontWeight": "normal", "titleFontSize": 14, "domainColor": "#8c8c8c", "tickColor": "#8c8c8c", "grid": false, "tickSize": 3},
    "axisX": {"ticks": false, "labelAngle": 0},
    "title": {"font": "Liberation Serif", "fontSize": 13, "fontWeight": "normal", "color": "#222"}
  }
}
